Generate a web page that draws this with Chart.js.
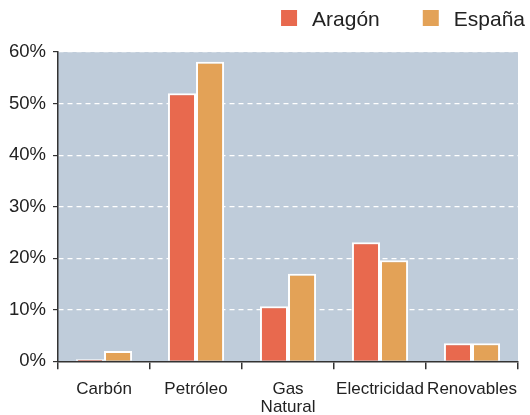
<!DOCTYPE html>
<html>
<head>
<meta charset="utf-8">
<script src="https://cdn.jsdelivr.net/npm/chart.js@4.4.0/dist/chart.umd.min.js"></script>
<style>
  html, body { margin: 0; padding: 0; background: #fff; }
  #wrap { width: 530px; height: 415px; }
</style>
</head>
<body>
<div id="wrap"><canvas id="energyChart" width="530" height="415"></canvas></div>
<script>
const categories = ['Carbón', 'Petróleo', ['Gas', 'Natural'], 'Electricidad', 'Renovables'];
const aragon = [0.4, 52.0, 10.7, 23.1, 3.5];
const espana = [2.0, 58.1, 17.0, 19.6, 3.5];
const yTicks = [0, 10, 20, 30, 40, 50, 60];

const FONT = 'Liberation Sans, Arial, sans-serif';

// paint the plot area before the bars go on
const plotBackground = {
  id: 'plotBackground',
  beforeDraw(chart) {
    const a = chart.chartArea;
    const c = chart.ctx;
    c.save();
    c.fillStyle = '#bfccda';
    c.fillRect(a.left, a.top, a.right - a.left, a.bottom - a.top);
    c.restore();
  }
};

// legend at the top right, laid out from the right edge
const topLegend = {
  id: 'topLegend',
  afterDraw(chart) {
    const c = chart.ctx;
    const box = 16, gapText = 15, gapItem = 43;
    c.save();
    c.font = '21px ' + FONT;
    c.textBaseline = 'alphabetic';
    const items = chart.data.datasets.map(ds => ({
      label: ds.label, color: ds.backgroundColor, w: c.measureText(ds.label).width
    }));
    let total = 0;
    items.forEach((it, i) => { total += box + gapText + it.w + (i ? gapItem : 0); });
    let x = chart.width - 5 - total;
    const base = 26;
    items.forEach(it => {
      c.fillStyle = it.color;
      c.fillRect(x, base - box, box, box);
      c.fillStyle = '#222';
      c.fillText(it.label, x + box + gapText, base);
      x += box + gapText + it.w + gapItem;
    });
    c.restore();
  }
};

const ctx = document.getElementById('energyChart').getContext('2d');

const energyChart = new Chart(ctx, {
  type: 'bar',
  data: {
    labels: categories,
    datasets: [{
      label: 'Aragón',
      data: aragon,
      backgroundColor: '#e8694e',
      borderColor: '#ffffff',
      borderWidth: 2
    }, {
      label: 'España',
      data: espana,
      backgroundColor: '#e3a257',
      borderColor: '#ffffff',
      borderWidth: 2
    }]
  },
  options: {
    responsive: false,
    animation: false,
    layout: { padding: { left: 2, right: 12, top: 52, bottom: -12 } },
    datasets: {
      bar: { categoryPercentage: 0.61, barPercentage: 1 }
    },
    plugins: {
      tooltip: { enabled: false },
      legend: { display: false }
    },
    scales: {
      x: {
        offset: true,
        grid: {
          offset: true,
          drawOnChartArea: false,
          tickColor: '#333',
          tickLength: 8,
          lineWidth: 1.5
        },
        border: { color: '#333', width: 1.5 },
        ticks: {
          color: '#222',
          padding: 11,
          maxRotation: 0,
          autoSkip: false,
          font: { family: FONT, size: 17, lineHeight: 1.05 }
        }
      },
      y: {
        min: 0,
        max: 60,
        afterBuildTicks(axis) {
          axis.ticks = yTicks.map(v => ({ value: v }));
        },
        grid: {
          color: '#ffffff',
          lineWidth: 1.2,
          tickColor: '#333',
          tickBorderDash: [],
          tickLength: 5
        },
        border: { color: '#333', width: 1.5, dash: [5, 4] },
        ticks: {
          color: '#222',
          padding: 7,
          font: { family: FONT, size: 18.5 },
          callback: v => v + '%'
        }
      }
    }
  },
  plugins: [plotBackground, topLegend]
});
</script>
</body>
</html>
